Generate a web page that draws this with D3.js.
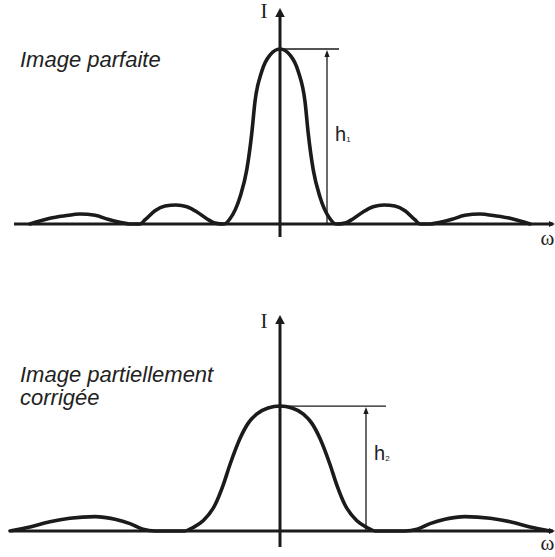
<!DOCTYPE html>
<html><head><meta charset="utf-8">
<script src="https://cdn.jsdelivr.net/npm/d3@7"></script>
<style>body{margin:0;background:#fff}svg{display:block}</style>
</head><body>
<script>
// ---- data (ω in arbitrary units, I normalised to perfect-image peak) ----
const perfectOmega = [-9.4,-8.65,-8.08,-7.52,-6.95,-6.47,-6.02,-5.64,-5.26,-5.08,-4.70,-4.32,-3.91,-3.50,-3.12,-2.74,-2.44,-2.1,-1.88,-1.50,-1.25,-1.06,-0.94,-0.69,-0.38,0,
  0.38,0.69,0.94,1.06,1.25,1.50,1.88,2.1,2.44,2.74,3.12,3.50,3.91,4.32,4.70,5.08,5.26,5.64,6.02,6.47,6.95,7.52,8.08,8.65,9.4];
const perfectI = [0,0.033,0.047,0.057,0.05,0.027,0.01,0,0,0.023,0.076,0.103,0.109,0.099,0.069,0.029,0.005,0,0.03,0.156,0.309,0.52,0.7,0.87,0.965,1,
  0.965,0.87,0.7,0.52,0.309,0.156,0.03,0,0.005,0.029,0.069,0.099,0.109,0.103,0.076,0.023,0,0,0.01,0.027,0.05,0.057,0.047,0.033,0];
const correctedOmega = [-10.15,-9.4,-8.65,-7.9,-6.95,-6.2,-5.64,-5.15,-4.7,-3.6,-3.26,-2.88,-2.44,-2.13,-1.88,-1.50,-1.2,-0.88,-0.45,0,
  0.45,0.88,1.2,1.50,1.88,2.13,2.44,2.88,3.26,3.6,4.7,5.15,5.64,6.2,6.95,7.9,8.65,9.4,10.15];
const correctedI = [0,0.023,0.053,0.073,0.082,0.067,0.042,0.01,0,0,0.021,0.06,0.15,0.265,0.38,0.53,0.615,0.668,0.703,0.714,
  0.703,0.668,0.615,0.53,0.38,0.265,0.15,0.06,0.021,0,0,0.01,0.042,0.067,0.082,0.073,0.053,0.023,0];
const titles = [["Image parfaite"], ["Image partiellement", "corrigée"]];
const heightLabels = ["h", "h"];
const heightSubs = ["1", "2"];
const axisLabelY = "I";
const axisLabelX = "ω";

// ---- layout ----
const W = 555, H = 557;
const svg = d3.select("body").append("svg").attr("width", W).attr("height", H);
const ink = "#1b1b1b";
const x = d3.scaleLinear().domain([-10, 10]).range([14, 546]);

const panels = [
  {omega: perfectOmega, I: perfectI, base: 224, axisLeft: -10, yTop: 8, yBottom: 237,
   title: titles[0], titleY: 67, hx: 327, hEnd: 339, hLabelX: 335, hLabelY: 141, sub: heightSubs[0],
   IY: 18, wY: 245},
  {omega: correctedOmega, I: correctedI, base: 531, axisLeft: -10.1, yTop: 315, yBottom: 547,
   title: titles[1], titleY: 382, hx: 366, hEnd: 386, hLabelX: 374, hLabelY: 460, sub: heightSubs[1],
   IY: 328, wY: 550}
];

panels.forEach((p, k) => {
  const y = d3.scaleLinear().domain([0, 1]).range([p.base, p.base - 175]);
  const g = svg.append("g");
  const pts = p.omega.map((o, i) => [o, p.I[i]]);
  const peak = d3.max(p.I);

  // horizontal axis
  g.append("line").attr("x1", x(p.axisLeft)).attr("x2", 553)
    .attr("y1", y(0)).attr("y2", y(0)).attr("stroke", ink).attr("stroke-width", 3.2);
  g.append("path").attr("d", `M555,${y(0)} l-6,-3 l0,6 z`).attr("fill", ink);

  // vertical axis
  g.append("line").attr("x1", x(0)).attr("x2", x(0))
    .attr("y1", p.yBottom).attr("y2", p.yTop + 8).attr("stroke", ink).attr("stroke-width", 3);
  g.append("path").attr("d", `M${x(0)},${p.yTop} l-4.8,9 l9.6,0 z`).attr("fill", ink);

  // reference line at peak and height arrow
  g.append("line").attr("x1", x(0)).attr("x2", p.hEnd).attr("y1", y(peak)).attr("y2", y(peak))
    .attr("stroke", ink).attr("stroke-width", 1.3);
  g.append("line").attr("x1", p.hx).attr("x2", p.hx).attr("y1", y(peak) + 5).attr("y2", y(0))
    .attr("stroke", ink).attr("stroke-width", 1.3);
  g.append("path").attr("d", `M${p.hx},${y(peak) + 1} l-2.6,7 l5.2,0 z`).attr("fill", ink);

  // curve
  g.append("path").datum(pts)
    .attr("d", d3.line().x(d => x(d[0])).y(d => y(d[1])).curve(d3.curveMonotoneX))
    .attr("fill", "none").attr("stroke", ink).attr("stroke-width", 3.6)
    .attr("stroke-linejoin", "round").attr("stroke-linecap", "round");

  // titles
  const t = g.append("text").attr("x", 20).attr("y", p.titleY)
    .attr("font-family", "Liberation Sans, Arial, sans-serif").attr("font-style", "italic")
    .attr("font-size", 22).attr("fill", "#222");
  p.title.forEach((line, i) => t.append("tspan").attr("x", 20).attr("y", p.titleY + i * 23).text(line));

  // h label
  const h = g.append("text").attr("x", p.hLabelX).attr("y", p.hLabelY)
    .attr("font-family", "Liberation Sans, Arial, sans-serif").attr("font-size", 20).attr("fill", "#222");
  h.append("tspan").text(heightLabels[k]);
  h.append("tspan").attr("font-size", 8).attr("dy", 1).text(p.sub);

  // axis labels
  g.append("text").attr("x", 264).attr("y", p.IY).attr("text-anchor", "middle")
    .attr("font-family", "Liberation Serif, Times New Roman, serif").attr("font-size", 21).attr("fill", "#222")
    .text(axisLabelY);
  g.append("text").attr("x", 547.5).attr("y", p.wY).attr("text-anchor", "middle")
    .attr("font-family", "Liberation Serif, Times New Roman, serif").attr("font-size", 21).attr("fill", "#222")
    .text(axisLabelX);
});
</script>
</body></html>
